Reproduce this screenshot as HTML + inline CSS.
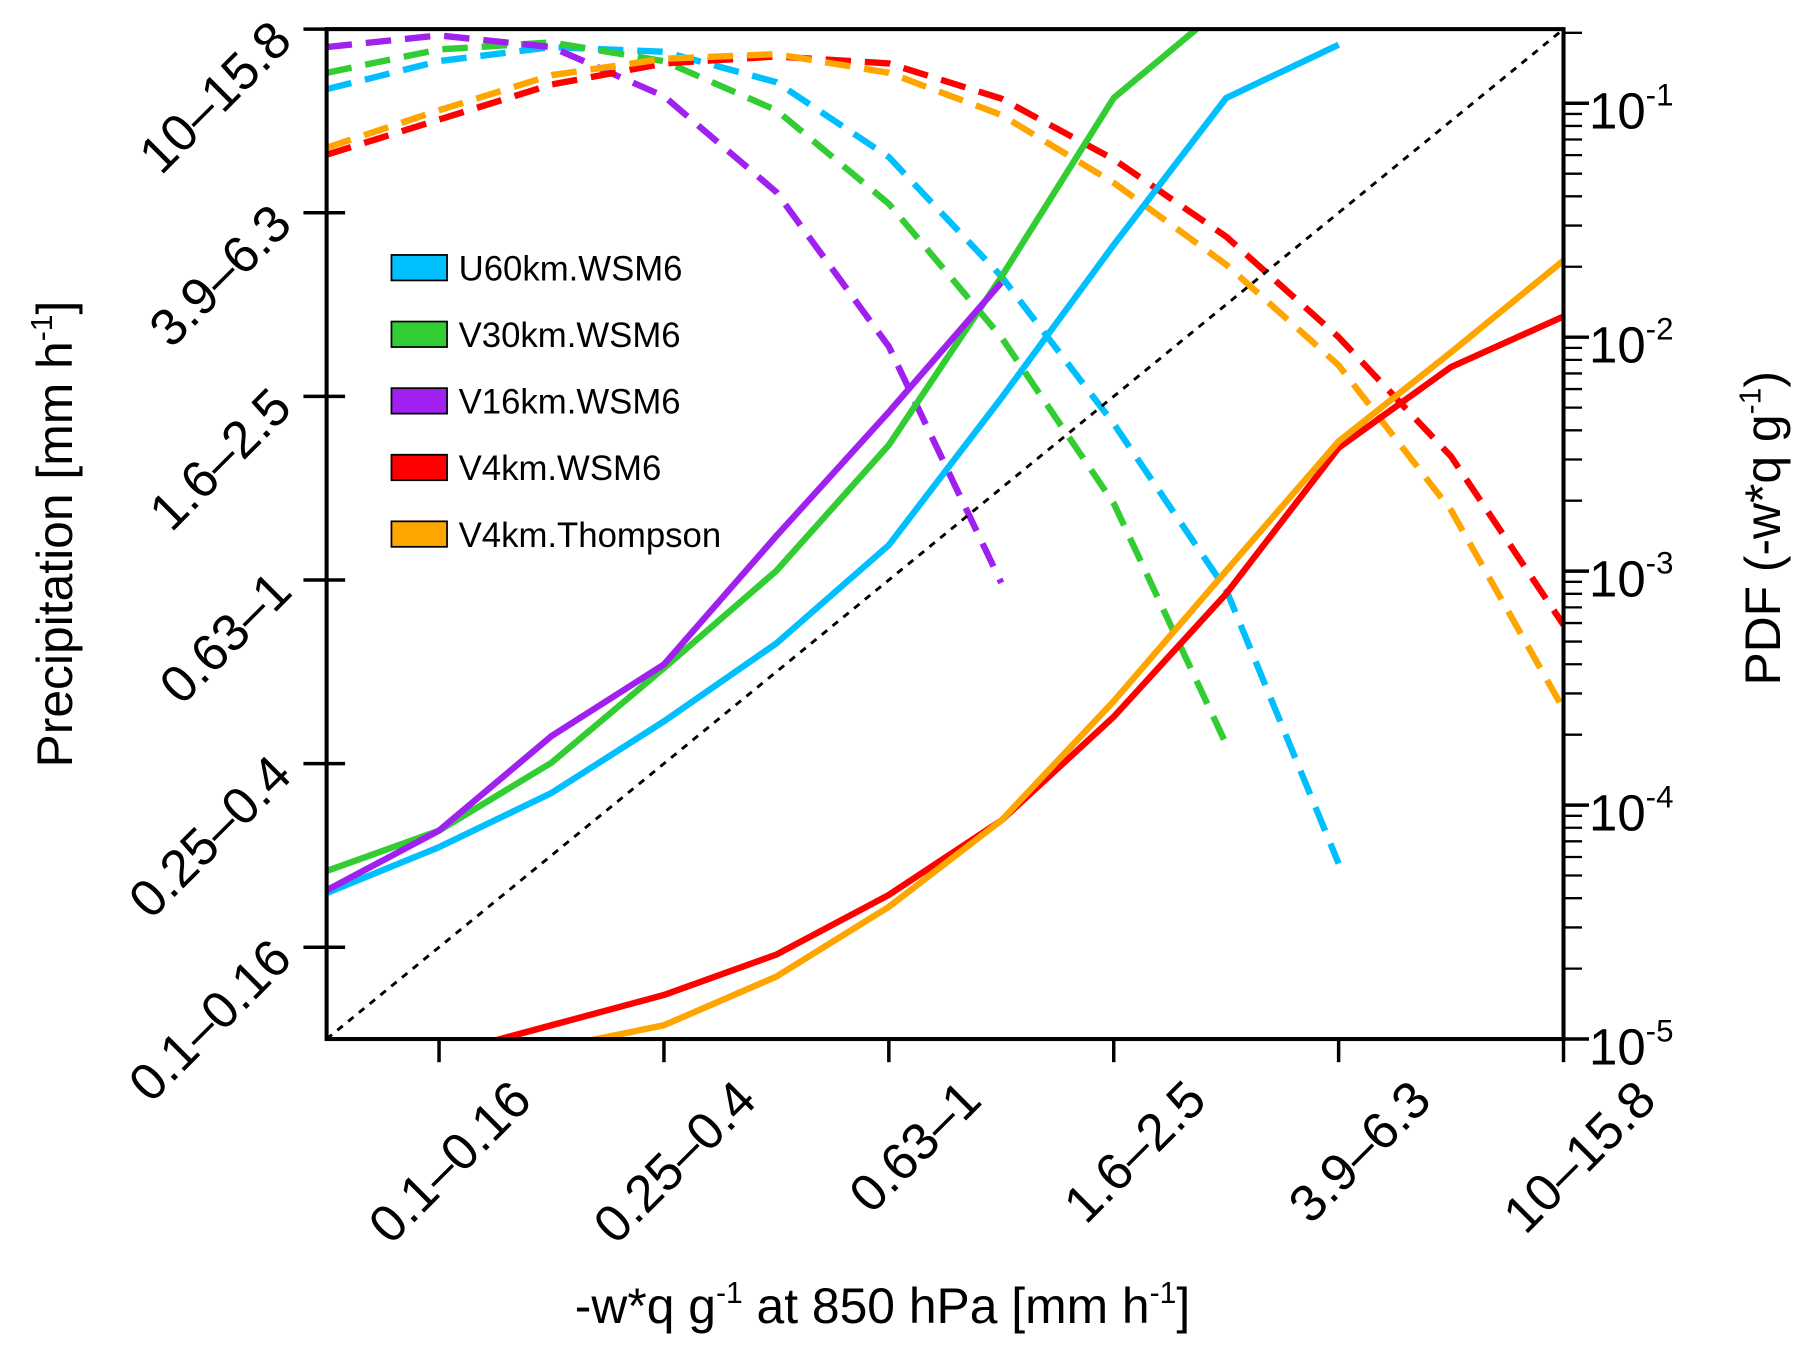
<!DOCTYPE html>
<html><head><meta charset="utf-8"><style>
html,body{margin:0;padding:0;background:#fff;}
svg{display:block;font-family:"Liberation Sans",sans-serif;}
</style></head><body>
<svg id="chart" width="1816" height="1360" viewBox="0 0 1568 1174" xmlns="http://www.w3.org/2000/svg">
<defs><clipPath id="pc"><rect x="282" y="25" width="1068" height="872"/></clipPath></defs>
<g id="dash" clip-path="url(#pc)"></g>
<g id="solid" clip-path="url(#pc)"></g>
<line x1="282" y1="897" x2="1350" y2="25" stroke="#000" stroke-width="2.5" stroke-dasharray="6,6"/>
<rect x="282" y="25" width="1068" height="872" fill="none" stroke="#000" stroke-width="3.5"/>
<g id="axes"></g>
<text transform="translate(62,461) rotate(-90)" text-anchor="middle" font-size="43">Precipitation [mm h<tspan dy="-17" font-size="26">-1</tspan><tspan dy="17">]</tspan></text>
<text transform="translate(1537,456) rotate(-90)" text-anchor="middle" font-size="43">PDF (-w*q g<tspan dy="-17" font-size="26">-1</tspan><tspan dy="17">)</tspan></text>
<text x="762" y="1142" text-anchor="middle" font-size="43">-w*q g<tspan dy="-17" font-size="26">-1</tspan><tspan dy="17"> at 850 hPa [mm h</tspan><tspan dy="-17" font-size="26">-1</tspan><tspan dy="17">]</tspan></text>
<g id="legend"></g>
</svg>
<script>
const NS="http://www.w3.org/2000/svg";
const names=["U60km.WSM6","V30km.WSM6","V16km.WSM6","V4km.WSM6","V4km.Thompson"];
const colors=["#00bfff","#32cd32","#a020f0","#ff0000","#ffa500"];
const tickLabels=["0.1\u20130.16","0.25\u20130.4","0.63\u20131","1.6\u20132.5","3.9\u20136.3","10\u201315.8"];
const solidX=[[0,1,2,3,4,5,6,7,8,9],[0,1,2,3,4,5,6,7,8],[0,1,2,3,4,5,6],[1,2,3,4,5,6,7,8,9,10,11],[2,3,4,5,6,7,8,9,10,11]];
const solidU60=[1.59,2.09,2.68,3.46,4.31,5.38,6.98,8.65,10.25,10.83];
const solidV30=[1.83,2.27,3.01,4.04,5.10,6.47,8.30,10.25,11.27];
const solidV16=[1.62,2.27,3.30,4.08,5.48,6.83,8.24];
const solidV4=[-0.18,0.15,0.48,0.92,1.57,2.38,3.51,4.85,6.44,7.32,7.87];
const solidThom=[-0.1,0.15,0.68,1.44,2.38,3.68,5.10,6.51,7.48,8.48];
const pdfU60=[-0.94,-0.82,-0.76,-0.78,-0.91,-1.23,-1.74,-2.37,-3.08,-4.25];
const pdfV30=[-0.87,-0.77,-0.74,-0.82,-1.03,-1.43,-2.00,-2.71,-3.74];
const pdfV16=[-0.76,-0.71,-0.76,-0.97,-1.38,-2.04,-3.05];
const pdfV4=[-1.22,-1.07,-0.92,-0.83,-0.80,-0.83,-0.98,-1.24,-1.57,-2.00,-2.51,-3.23];
const pdfThom=[-1.19,-1.03,-0.88,-0.81,-0.79,-0.87,-1.05,-1.34,-1.69,-2.12,-2.74,-3.59];
const rightDecades=[-5,-4,-3,-2,-1];
const solids=[solidU60,solidV30,solidV16,solidV4,solidThom];
const pdfs=[pdfU60,pdfV30,pdfV16,pdfV4,pdfThom];
const keys=["u60","v30","v16","v4-wsm6","v4-thompson"];
const X=i=>282+i*1068/11, Y=j=>897-j*872/11, R=l=>897+(-5-l)*202;
function mk(tag,at,par){const e=document.createElementNS(NS,tag);for(const k in at)e.setAttribute(k,at[k]);par.appendChild(e);return e;}
const dash=document.getElementById('dash'),solid=document.getElementById('solid'),axes=document.getElementById('axes'),leg=document.getElementById('legend');
pdfs.forEach((v,s)=>{const p=mk('polyline',{points:v.map((l,i)=>X(i)+','+R(l)).join(' '),fill:'none',stroke:colors[s],'stroke-width':5.5,'stroke-dasharray':'22,12'},dash);

});
solids.forEach((v,s)=>{const p=mk('polyline',{points:v.map((j,k)=>X(solidX[s][k])+','+Y(j)).join(' '),fill:'none',stroke:colors[s],'stroke-width':5.5,'stroke-linejoin':'round'},solid);

});
tickLabels.forEach((t,k)=>{const i=1+2*k;
mk('line',{x1:X(i),y1:897,x2:X(i),y2:917,stroke:'#000','stroke-width':3},axes);
mk('line',{x1:262,y1:Y(i),x2:298,y2:Y(i),stroke:'#000','stroke-width':3},axes);
const tx=mk('text',{transform:`translate(${X(i)+82},${952}) rotate(-45)`,'text-anchor':'end','font-size':45},axes);tx.textContent=t;


const ty=mk('text',{transform:`translate(${254},${Y(i)+12}) rotate(-45)`,'text-anchor':'end','font-size':45},axes);ty.textContent=t;

});
rightDecades.forEach(d=>{mk('line',{x1:1350,y1:R(d),x2:1372,y2:R(d),stroke:'#000','stroke-width':3},axes);
for(let m=2;m<10;m++){const y=R(d+Math.log10(m));if(y>25)mk('line',{x1:1350,y1:y,x2:1366,y2:y,stroke:'#000','stroke-width':2},axes);}
const t=mk('text',{x:1372,y:R(d)+22,'font-size':44},axes);t.innerHTML='10<tspan dy="-20" font-size="27">'+d+'</tspan>';

});
names.forEach((n,s)=>{const y=231+s*57.5;
const r=mk('rect',{x:338,y:y-11,width:48,height:22,fill:colors[s],stroke:'#000','stroke-width':1.5},leg);


const t=mk('text',{x:396,y:y+11,'font-size':30},leg);t.textContent=n;

});
</script>
</body></html>
